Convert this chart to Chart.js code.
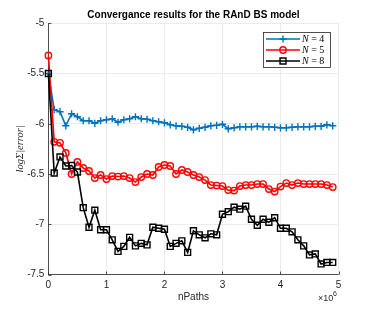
<!DOCTYPE html>
<html>
<head>
<meta charset="utf-8">
<script src="https://cdn.jsdelivr.net/npm/chart.js@4.4.0/dist/chart.umd.min.js"></script>
<style>
  body { margin: 0; background: #fff; }
  #wrap { width: 374px; height: 311px; }
</style>
</head>
<body>
<div id="wrap"><canvas id="convChart" width="374" height="311"></canvas></div>
<script>
// nPaths, in units of 1e6
const nPaths = [0, 0.1, 0.2, 0.3, 0.4, 0.5, 0.6, 0.7, 0.8, 0.9,
    1.0, 1.1, 1.2, 1.3, 1.4, 1.5, 1.6, 1.7, 1.8, 1.9,
    2.0, 2.1, 2.2, 2.3, 2.4, 2.5, 2.6, 2.7, 2.8, 2.9,
    3.0, 3.1, 3.2, 3.3, 3.4, 3.5, 3.6, 3.7, 3.8, 3.9,
    4.0, 4.1, 4.2, 4.3, 4.4, 4.5, 4.6, 4.7, 4.8, 4.9];

const errN4 = [-5.50, -5.86, -5.88, -6.02, -5.90, -5.93, -5.97, -5.97, -5.995, -5.97,
    -5.96, -5.95, -5.985, -5.96, -5.95, -5.93, -5.95, -5.955, -5.97, -5.98,
    -5.99, -6.01, -6.02, -6.025, -6.035, -6.06, -6.045, -6.035, -6.02, -6.015,
    -6.005, -6.05, -6.04, -6.03, -6.03, -6.03, -6.025, -6.03, -6.03, -6.035,
    -6.04, -6.04, -6.035, -6.03, -6.03, -6.03, -6.025, -6.025, -6.01, -6.02];

const errN5 = [-5.32, -6.18, -6.19, -6.29, -6.50, -6.38, -6.44, -6.47, -6.54, -6.51,
    -6.55, -6.52, -6.525, -6.52, -6.54, -6.58, -6.53, -6.50, -6.51, -6.43,
    -6.41, -6.42, -6.50, -6.46, -6.48, -6.51, -6.53, -6.56, -6.61, -6.615,
    -6.62, -6.66, -6.665, -6.62, -6.61, -6.61, -6.60, -6.60, -6.65, -6.675,
    -6.625, -6.59, -6.61, -6.59, -6.60, -6.60, -6.60, -6.60, -6.61, -6.63];

const errN8 = [-5.50, -6.49, -6.33, -6.42, -6.415, -6.48, -6.835, -7.03, -6.86, -7.055,
    -7.055, -7.155, -7.27, -7.22, -7.13, -7.215, -7.19, -7.205, -7.03, -7.04,
    -7.05, -7.22, -7.19, -7.165, -7.28, -7.065, -7.105, -7.135, -7.095, -7.105,
    -6.90, -6.875, -6.83, -6.85, -6.82, -6.95, -7.01, -6.95, -6.98, -6.935,
    -7.04, -7.04, -7.075, -7.155, -7.215, -7.305, -7.295, -7.395, -7.38, -7.38];

const seriesNames = ['4', '5', '8'];
const xTicks = [0, 1, 2, 3, 4, 5];
const yTicks = [-7.5, -7, -6.5, -6, -5.5, -5];

const colors = ['#0072BD', '#FF0000', '#000000'];
const markers = ['cross', 'circle', 'rect'];
const markerSize = [3.6, 3.2, 4.2];
const axisColor = '#262626';

function toPoints(ys) {
    return ys.map((y, i) => ({ x: nPaths[i], y: y }));
}

function makeSet(ys, k) {
    return {
        label: 'N = ' + seriesNames[k],
        data: toPoints(ys),
        borderColor: colors[k],
        backgroundColor: 'rgba(0,0,0,0)',
        borderWidth: 1.6,
        pointStyle: markers[k],
        pointRadius: markerSize[k],
        pointBorderWidth: 1.4,
        pointBorderColor: colors[k],
        pointBackgroundColor: 'rgba(0,0,0,0)',
        tension: 0,
        clip: false,
        order: 2 - k
    };
}

// draws title, axis labels, inward ticks and the legend box
const decorations = {
    id: 'decorations',
    afterDraw(chart) {
        const ctx = chart.ctx;
        const area = chart.chartArea;
        const xs = chart.scales.x;
        const ys = chart.scales.y;
        ctx.save();

        // inward ticks
        ctx.strokeStyle = axisColor;
        ctx.lineWidth = 0.8;
        ctx.beginPath();
        xTicks.forEach(t => {
            const px = Math.round(xs.getPixelForValue(t)) + 0.5;
            ctx.moveTo(px, area.bottom);
            ctx.lineTo(px, area.bottom - 3);
        });
        yTicks.forEach(t => {
            const py = Math.round(ys.getPixelForValue(t)) + 0.5;
            ctx.moveTo(area.left, py);
            ctx.lineTo(area.left + 3, py);
        });
        ctx.stroke();

        // title
        ctx.fillStyle = '#000';
        ctx.font = 'bold 10px "Liberation Sans", Arial, sans-serif';
        ctx.textAlign = 'center';
        ctx.textBaseline = 'middle';
        ctx.fillText('Convergance results for the RAnD BS model', (area.left + area.right) / 2, 15);

        // x label and exponent
        ctx.fillStyle = axisColor;
        ctx.font = '10px "Liberation Sans", Arial, sans-serif';
        ctx.fillText('nPaths', (area.left + area.right) / 2, 297);
        ctx.textAlign = 'left';
        ctx.font = '9px "Liberation Sans", Arial, sans-serif';
        ctx.fillText('\u00d710', 318, 299);
        ctx.font = '7px "Liberation Sans", Arial, sans-serif';
        ctx.fillText('6', 333, 294);

        // y label
        ctx.save();
        ctx.translate(20, (area.top + area.bottom) / 2);
        ctx.rotate(-Math.PI / 2);
        ctx.textAlign = 'center';
        ctx.font = 'italic 10.5px "Liberation Serif", "DejaVu Serif", serif';
        ctx.fillText('log\u03a3|error|', 0, 0);
        ctx.restore();

        // legend
        const bx = 263.5, by = 32.5, bw = 67, bh = 35;
        ctx.fillStyle = '#fff';
        ctx.fillRect(bx, by, bw, bh);
        ctx.strokeStyle = '#262626';
        ctx.lineWidth = 0.8;
        ctx.strokeRect(bx, by, bw, bh);
        const rowY = [39, 50, 61];
        chart.data.datasets.forEach((ds, k) => {
            const y = rowY[k];
            ctx.strokeStyle = colors[k];
            ctx.lineWidth = 1.6;
            ctx.beginPath();
            ctx.moveTo(266, y);
            ctx.lineTo(300, y);
            ctx.stroke();
            ctx.fillStyle = 'rgba(0,0,0,0)';
            ctx.lineWidth = 1.4;
            Chart.helpers.drawPoint(ctx, {
                pointStyle: markers[k],
                radius: markerSize[k],
                borderWidth: 1.4
            }, 283, y);
            ctx.fillStyle = '#000';
            ctx.textAlign = 'left';
            ctx.font = 'italic 10px "Liberation Serif", "DejaVu Serif", serif';
            ctx.fillText('N', 302, y);
            const w = ctx.measureText('N').width;
            ctx.font = '10px "Liberation Serif", "DejaVu Serif", serif';
            ctx.fillText(' = ' + seriesNames[k], 302 + w, y);
        });
        ctx.restore();
    }
};

new Chart(document.getElementById('convChart').getContext('2d'), {
    type: 'line',
    data: {
        datasets: [makeSet(errN4, 0), makeSet(errN5, 1), makeSet(errN8, 2)]
    },
    options: {
        responsive: false,
        devicePixelRatio: 1,
        animation: false,
        layout: { padding: { left: 0, right: 35.5, top: 23.3, bottom: 0 }, autoPadding: false },
        plugins: {
            legend: { display: false },
            title: { display: false },
            tooltip: { enabled: false }
        },
        scales: {
            x: {
                type: 'linear',
                min: 0,
                max: 5,
                afterBuildTicks: s => { s.ticks = xTicks.map(v => ({ value: v })); },
                afterFit: s => { s.height = 311 - 274.5 - 0; },
                grid: { color: '#e6e6e6', lineWidth: 0.8, drawTicks: false },
                border: { color: axisColor, width: 0.8 },
                ticks: {
                    color: axisColor,
                    padding: 5,
                    maxRotation: 0,
                    font: { family: '"Liberation Sans", Arial, sans-serif', size: 10 }
                }
            },
            y: {
                min: -7.5,
                max: -5,
                afterBuildTicks: s => { s.ticks = yTicks.map(v => ({ value: v })); },
                afterFit: s => { s.width = 48.4; },
                grid: { color: '#e6e6e6', lineWidth: 0.8, drawTicks: false },
                border: { color: axisColor, width: 0.8 },
                ticks: {
                    color: axisColor,
                    padding: 4,
                    callback: v => String(v),
                    font: { family: '"Liberation Sans", Arial, sans-serif', size: 10 }
                }
            }
        }
    },
    plugins: [decorations]
});
</script>
</body>
</html>
